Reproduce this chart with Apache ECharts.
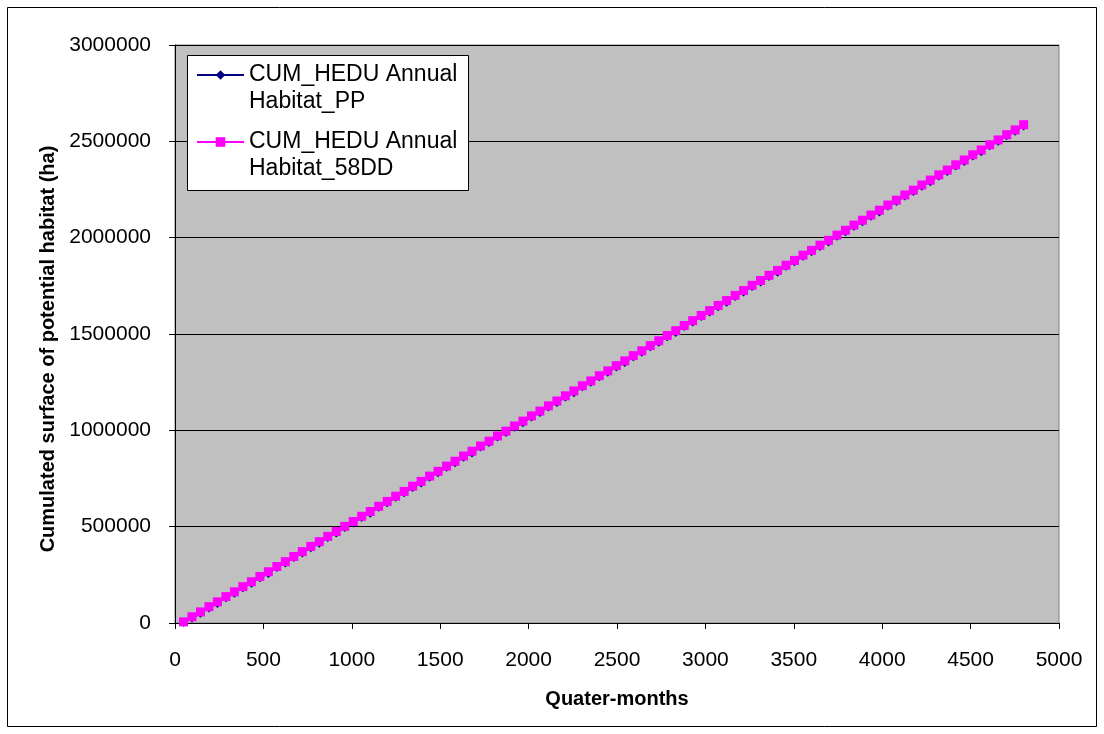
<!DOCTYPE html>
<html>
<head>
<meta charset="utf-8">
<script src="https://cdn.jsdelivr.net/npm/echarts@6/dist/echarts.min.js"></script>
<style>
html,body{margin:0;padding:0;background:#fff;}
#chart{width:1104px;height:734px;}
</style>
</head>
<body>
<div id="chart"></div>
<script>
const seriesNames = ['CUM_HEDU Annual Habitat_PP', 'CUM_HEDU Annual Habitat_58DD'];
const xTitle = 'Quater-months';
const yTitle = 'Cumulated surface of potential habitat (ha)';

const quarterMonths = [48,96,144,192,240,288,336,384,432,480,528,576,624,672,720,768,816,864,912,960,
1008,1056,1104,1152,1200,1248,1296,1344,1392,1440,1488,1536,1584,1632,1680,1728,1776,1824,1872,1920,
1968,2016,2064,2112,2160,2208,2256,2304,2352,2400,2448,2496,2544,2592,2640,2688,2736,2784,2832,2880,
2928,2976,3024,3072,3120,3168,3216,3264,3312,3360,3408,3456,3504,3552,3600,3648,3696,3744,3792,3840,
3888,3936,3984,4032,4080,4128,4176,4224,4272,4320,4368,4416,4464,4512,4560,4608,4656,4704,4752,4800];

const habitatPP = [300,23900,47400,75600,98700,129000,152000,180400,203900,232100,
254900,285400,308500,336900,360300,388500,411100,441800,465000,493300,
516500,544800,567500,598000,621200,649600,672900,701100,723900,754400,
777500,805900,829300,857500,880300,910800,934000,962300,985700,1013800,
1036700,1067200,1090300,1118700,1142100,1170200,1193100,1223600,1246700,1275100,
1298400,1326600,1349400,1379900,1403100,1431400,1454800,1483000,1505800,1536300,
1559400,1587800,1611100,1639300,1662200,1692600,1715800,1744200,1767500,1795700,
1818500,1849000,1872100,1900500,1923800,1952000,1974800,2005300,2028500,2056800,
2080200,2108400,2131200,2161700,2184800,2213200,2236500,2264700,2287600,2318000,
2341200,2369600,2392900,2421100,2443900,2474400,2497500,2525900,2549200,2577400];

const habitat58DD = [5800,32400,57600,84700,110000,136900,161800,188900,214100,241200,
266200,293300,318300,345400,370500,397600,422400,449700,474800,501800,
526700,553900,578800,605900,631000,658100,683100,710200,735200,762300,
787300,814400,839500,866600,891600,918700,943800,970800,995900,1022900,
1048000,1075100,1100100,1127200,1152300,1179300,1204400,1231500,1256500,1283600,
1308600,1335700,1360700,1387800,1412900,1439900,1465000,1492100,1517100,1544200,
1569200,1596300,1621300,1648400,1673500,1700500,1725600,1752700,1777700,1804800,
1829800,1856900,1881900,1909000,1934000,1961100,1986100,2013200,2038300,2065300,
2090400,2117500,2142500,2169600,2194600,2221700,2246700,2273800,2298900,2325900,
2351000,2378100,2403100,2430200,2455200,2482300,2507300,2534400,2559400,2586500];

const FONT = '"Liberation Sans", Arial, sans-serif';
const chart = echarts.init(document.getElementById('chart'), null, {renderer: 'canvas'});

const legendCommon = {
  orient: 'vertical',
  left: 196,
  padding: 0,
  itemWidth: 47,
  itemHeight: 12,
  selectedMode: false,
  z: 10,
  // leading blank line keeps the marker level with the first text line
  formatter: function (name) { return '\n' + name.replace(' Habitat', '\nHabitat'); },
  textStyle: {fontFamily: FONT, fontSize: 23, lineHeight: 27, color: '#000'}
};

chart.setOption({
  animation: false,
  backgroundColor: '#ffffff',
  textStyle: {fontFamily: FONT},
  graphic: [
    {type: 'rect', z: -10, silent: true, shape: {x: 7.5, y: 7.5, width: 1089, height: 719}, style: {fill: 'none', stroke: '#000', lineWidth: 1}},
    {type: 'rect', z: 9, silent: true, shape: {x: 187.5, y: 55.5, width: 281, height: 135}, style: {fill: '#fff', stroke: '#000', lineWidth: 1}}
  ],
  legend: [
    Object.assign({}, legendCommon, {data: [seriesNames[0]], top: 34.5}),
    Object.assign({}, legendCommon, {data: [seriesNames[1]], top: 101.5})
  ],
  grid: {
    left: 175, right: 45, top: 45, bottom: 111,
    show: true, backgroundColor: '#C0C0C0', borderColor: '#808080', borderWidth: 1
  },
  xAxis: {
    type: 'value', min: 0, max: 5000, interval: 500,
    name: xTitle, nameLocation: 'middle', nameGap: 66,
    nameTextStyle: {fontFamily: FONT, fontSize: 20, fontWeight: 'bold', color: '#000'},
    axisLine: {show: true, onZero: false, lineStyle: {color: '#000', width: 1}},
    axisTick: {show: true, inside: false, length: 6, lineStyle: {color: '#000'}},
    axisLabel: {fontFamily: FONT, fontSize: 21, color: '#000', margin: 27, formatter: function (v) { return String(v); }},
    splitLine: {show: false}
  },
  yAxis: {
    type: 'value', min: 0, max: 3000000, interval: 500000,
    name: yTitle, nameLocation: 'middle', nameGap: 114, nameRotate: 90,
    nameTextStyle: {fontFamily: FONT, fontSize: 20, fontWeight: 'bold', color: '#000', padding: [0, 30, 0, 0]},
    axisLine: {show: true, onZero: false, lineStyle: {color: '#000', width: 1}},
    axisTick: {show: true, inside: false, length: 6, lineStyle: {color: '#000'}},
    axisLabel: {fontFamily: FONT, fontSize: 21, color: '#000', margin: 24, formatter: function (v) { return String(v); }},
    splitLine: {show: true, lineStyle: {color: '#000', width: 1}}
  },
  series: [
    {
      name: seriesNames[0], type: 'line',
      data: quarterMonths.map((x, i) => [x, habitatPP[i]]),
      symbol: 'diamond', symbolSize: 8, showAllSymbol: true,
      itemStyle: {color: '#000080'},
      lineStyle: {color: '#000080', width: 1},
      z: 3
    },
    {
      name: seriesNames[1], type: 'line',
      data: quarterMonths.map((x, i) => [x, habitat58DD[i]]),
      symbol: 'rect', symbolSize: 9, showAllSymbol: true,
      itemStyle: {color: '#FF00FF'},
      lineStyle: {color: '#FF00FF', width: 1},
      z: 4
    }
  ]
});
</script>
</body>
</html>
